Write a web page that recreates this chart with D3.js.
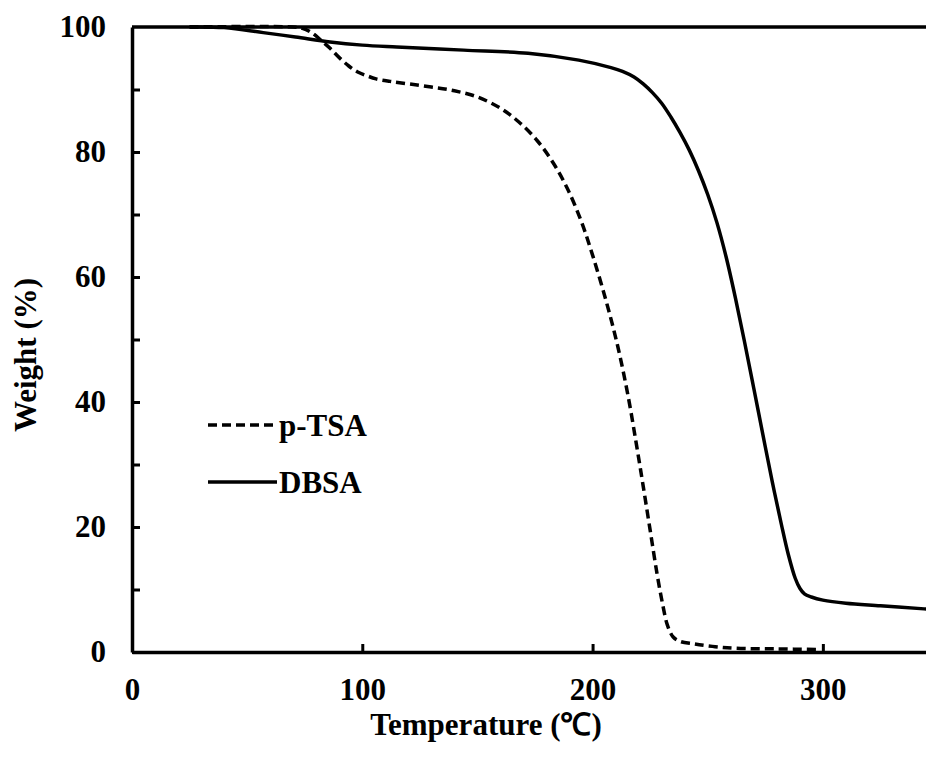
<!DOCTYPE html>
<html>
<head>
<meta charset="utf-8">
<script src="https://cdn.jsdelivr.net/npm/d3@7"></script>
<style>
  body { margin: 0; background: #fff; }
  text { font-family: "Liberation Serif", "Times New Roman", serif; font-weight: bold; fill: #000; }
</style>
</head>
<body>
<div id="chart"></div>
<script>
// ------ Data ---------------//
var ptsaTemp   = [25, 70, 74, 78, 82, 86, 90, 94, 98, 102, 106, 112, 120, 130, 140, 150, 160, 168, 176, 183, 189, 195, 200, 206, 211, 215.5, 219, 222, 225, 228, 230.5, 232.5, 235, 238, 244, 252, 262, 280, 298];
var ptsaWeight = [100, 100, 99.8, 99.1, 97.9, 96.6, 95.1, 93.8, 92.8, 92.2, 91.7, 91.3, 90.9, 90.4, 89.8, 88.8, 87, 84.8, 81.8, 78.2, 74.2, 69, 63.5, 56, 48.8, 40.8, 33.3, 26.5, 19.5, 12.5, 7.5, 4.3, 2.4, 1.7, 1.3, 0.9, 0.6, 0.5, 0.4];

var dbsaTemp   = [25, 40, 57, 71, 86, 100, 115, 144, 172, 194, 208, 213, 218, 222, 226, 230, 234, 238, 242, 246, 250, 254, 258, 262, 266, 270, 274, 278, 282, 285, 288, 290, 292, 295, 300, 310, 325, 344, 350];
var dbsaWeight = [100, 99.9, 99.1, 98.4, 97.6, 97.1, 96.8, 96.3, 95.8, 94.7, 93.5, 92.9, 92, 90.9, 89.5, 87.8, 85.6, 83.1, 80.3, 77, 73.2, 68.7, 63.2, 56.7, 49.6, 42.2, 34.7, 27.3, 20.4, 15.6, 11.8, 10.2, 9.3, 8.8, 8.3, 7.8, 7.4, 6.9, 6.8];

var xTicks = [0, 100, 200, 300];
var yTicks = [0, 10, 20, 30, 40, 50, 60, 70, 80, 90];

var seriesNames = ["p-TSA", "DBSA"];

// ------ Chart size ---------------//
var width = 926, height = 771;
var fontSize = 31;

var svg = d3.select("#chart").append("svg")
    .attr("width", width)
    .attr("height", height);

// ------ Scales ---------------//
var x = d3.scaleLinear().domain([0, 350]).range([132, 938]);
var y = d3.scaleLinear().domain([0, 100]).range([652, 27]);

// ------ Lines ---------------//
{
  var line = d3.line()
    .x(d => x(d[0]))
    .y(d => y(d[1]))
    .curve(d3.curveCatmullRom.alpha(0.5));

  var ptsa = d3.zip(ptsaTemp, ptsaWeight);
  var dbsa = d3.zip(dbsaTemp, dbsaWeight);

  svg.append("path")
    .datum(dbsa)
    .attr("d", line)
    .attr("fill", "none")
    .attr("stroke", "#000")
    .attr("stroke-width", 3.5);

  svg.append("path")
    .datum(ptsa)
    .attr("d", line)
    .attr("fill", "none")
    .attr("stroke", "#000")
    .attr("stroke-width", 3.5)
    .attr("stroke-dasharray", "9,5");
}

// ------ Axes ---------------//
{
  var xAxis = g => g
    .attr("transform", `translate(0,${y(0)})`)
    .call(d3.axisBottom(x).tickValues(xTicks).tickSize(-8).tickPadding(26).tickSizeOuter(0));

  var yAxis = g => g
    .attr("transform", `translate(${x(0)},0)`)
    .call(d3.axisLeft(y).tickValues(yTicks).tickSize(-8).tickPadding(26).tickSizeOuter(0)
      .tickFormat(d => d % 20 === 0 ? d : ""));

  svg.append("g").attr("class", "axis").call(xAxis);
  svg.append("g").attr("class", "axis").call(yAxis);

  // label for 100 sits on top of the frame
  svg.append("text")
    .attr("x", x(0) - 26)
    .attr("y", y(100))
    .attr("dy", "0.32em")
    .attr("text-anchor", "end")
    .attr("font-size", fontSize)
    .text("100");

  svg.selectAll(".axis path").attr("stroke", "#000").attr("stroke-width", 3.5);
  svg.selectAll(".axis line").attr("stroke", "#000").attr("stroke-width", 3);
  svg.selectAll(".axis text")
    .attr("font-size", fontSize)
    .attr("font-family", "Liberation Serif, Times New Roman, serif")
    .attr("font-weight", "bold")
    .attr("fill", "#000");

  // top frame line
  svg.append("line")
    .attr("x1", x(0)).attr("x2", width)
    .attr("y1", y(100)).attr("y2", y(100))
    .attr("stroke", "#000")
    .attr("stroke-width", 3.5);
}

// ------ Axis titles ---------------//
{
  svg.append("text")
    .attr("x", 486)
    .attr("y", 735)
    .attr("text-anchor", "middle")
    .attr("font-size", fontSize)
    .text("Temperature (℃)");

  svg.append("text")
    .attr("transform", `translate(36,355) rotate(-90)`)
    .attr("text-anchor", "middle")
    .attr("font-size", fontSize)
    .text("Weight (%)");
}

// ------ Legend ---------------//
{
  var legendY = [425, 482];
  var dashes = ["9,5", null];

  var legend = svg.append("g");
  seriesNames.forEach(function(name, i) {
    legend.append("line")
      .attr("x1", 208).attr("x2", 277)
      .attr("y1", legendY[i]).attr("y2", legendY[i])
      .attr("stroke", "#000")
      .attr("stroke-width", 3.5)
      .attr("stroke-dasharray", dashes[i]);
    legend.append("text")
      .attr("x", 279)
      .attr("y", legendY[i] + 11)
      .attr("font-size", 31)
      .text(name);
  });
}
</script>
</body>
</html>
